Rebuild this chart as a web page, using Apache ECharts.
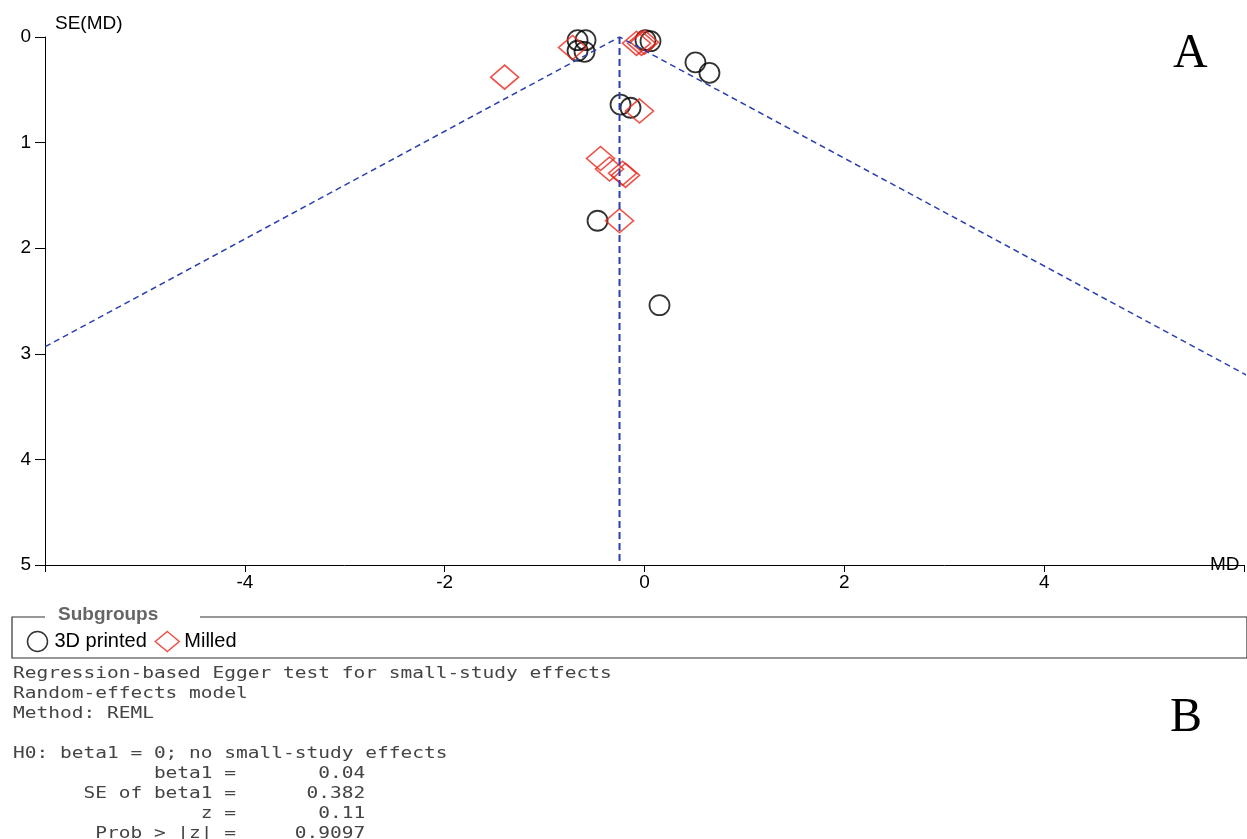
<!DOCTYPE html>
<html><head><meta charset="utf-8">
<script src="https://cdn.jsdelivr.net/npm/echarts@6/dist/echarts.min.js"></script>
<style>html,body{margin:0;background:#fff}#c{width:1247px;height:839px}</style>
</head><body><div id="c"></div>
<script>
// study estimates: [MD, SE(MD)]
const printed3D = [[-0.67,0.03],[-0.59,0.03],[-0.67,0.13],[-0.60,0.14],[0.01,0.03],[0.06,0.04],
  [0.51,0.24],[0.65,0.34],[-0.24,0.64],[-0.14,0.67],[-0.47,1.74],[0.15,2.54]];
const milled = [[-0.72,0.10],[-1.40,0.38],[-0.08,0.06],[-0.03,0.06],[0.0,0.05],[-0.05,0.70],
  [-0.44,1.15],[-0.35,1.25],[-0.22,1.29],[-0.19,1.31],[-0.25,1.74]];
const pooled = -0.25;
const seMax = 5;
const eggerLines = [
  'Regression-based Egger test for small-study effects',
  'Random-effects model',
  'Method: REML',
  '',
  'H0: beta1 = 0; no small-study effects',
  '            beta1 =       0.04',
  '      SE of beta1 =      0.382',
  '                z =       0.11',
  '       Prob > |z| =     0.9097'
];

const funnel = [[pooled - 1.96*seMax, seMax],[pooled,0],[pooled + 1.96*seMax, seMax]];
const chart = echarts.init(document.getElementById('c'));
const axisTxt = {color:'#000', fontSize:19, fontFamily:'Liberation Sans'};
chart.setOption({
  animation:false,
  grid:{left:45, right:0, top:37, bottom:274},
  xAxis:{type:'value', min:-6, max:6, interval:2, name:'MD', nameLocation:'end',
    nameGap:-34, nameTextStyle:{...axisTxt, padding:[-30,0,0,0]},
    axisLine:{onZero:false, lineStyle:{color:'#000'}}, axisTick:{length:7, lineStyle:{color:'#000'}},
    axisLabel:{...axisTxt, margin:8, formatter:v=>(v===-6||v===6)?'':v}, splitLine:{show:false}},
  yAxis:{type:'value', inverse:true, min:0, max:5, interval:1, name:'SE(MD)', nameLocation:'start',
    nameGap:4, nameTextStyle:{...axisTxt, align:'left', padding:[0,0,0,10]},
    axisLine:{show:true, onZero:false, lineStyle:{color:'#000'}}, axisTick:{show:true,length:10, lineStyle:{color:'#000'}},
    axisLabel:{...axisTxt, margin:14}, splitLine:{show:false}},
  legend:{left:20, top:624, itemGap:6, itemWidth:24, itemHeight:20,
    textStyle:{color:'#000', fontSize:20, fontFamily:'Liberation Sans'},
    data:[{name:'3D printed', icon:'circle', itemStyle:{color:'none', borderColor:'#000', borderWidth:1.5}},
          {name:'Milled', icon:'diamond', itemStyle:{color:'none', borderColor:'#e8281c', borderWidth:1.5}}]},
  series:[
    {type:'line', data:funnel, symbol:'none', silent:true, clip:true,
      lineStyle:{color:'#2a3eb1', width:1.5, type:[6,4]}},
    {type:'line', data:[[pooled,0],[pooled,seMax]], symbol:'none', silent:true,
      lineStyle:{color:'#2a3eb1', width:2, type:[7,4]}},
    {name:'3D printed', type:'scatter', data:printed3D, symbol:'circle', symbolSize:20,
      itemStyle:{color:'none', borderColor:'#000', borderWidth:1.8}},
    {name:'Milled', type:'scatter', data:milled, symbol:'diamond', symbolSize:[28,24],
      itemStyle:{color:'none', borderColor:'#e8281c', borderWidth:1.6}}
  ],
  graphic:[
    {type:'polyline', shape:{points:[[45,617],[12,617],[12,658],[1247,658],[1247,617],[200,617]]},
      style:{stroke:'#333', fill:'none', lineWidth:1.2}},
    {type:'text', left:58, top:605, style:{text:'Subgroups', fill:'#666', font:'bold 19px Liberation Sans'}},
    {type:'text', left:1173, top:30, style:{text:'A', fill:'#000', font:'48px Liberation Serif'}},
    {type:'text', left:1170, top:694, style:{text:'B', fill:'#000', font:'48px Liberation Serif'}},
    {type:'text', x:13, y:664, scaleX:1.3, style:{text:eggerLines.join('\n'), fill:'#444',
      font:'15px DejaVu Sans Mono', lineHeight:20}}
  ]
});
</script></body></html>
